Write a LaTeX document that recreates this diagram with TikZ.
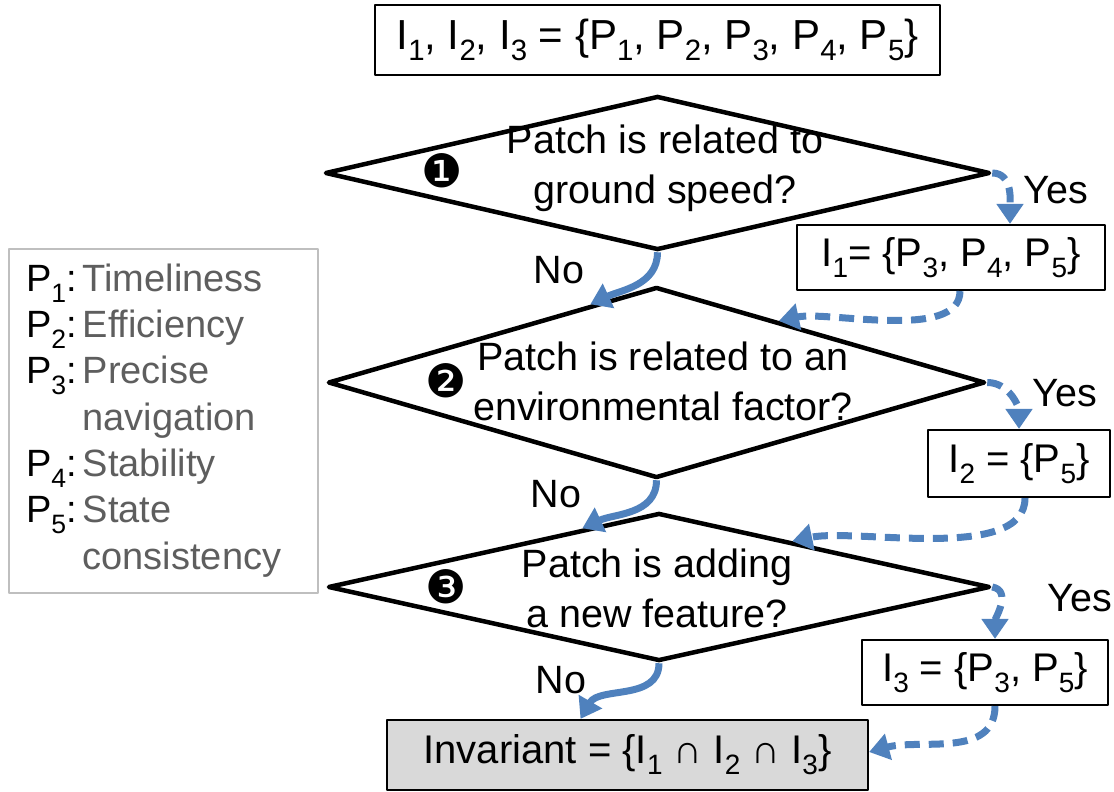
\documentclass[tikz,border=0pt]{standalone}
\usepackage{fontspec}
\setmainfont{Liberation Sans}
\newfontfamily\dingfont{DejaVu Sans}
\usetikzlibrary{shapes.geometric,arrows.meta,calc}
\definecolor{flowblue}{RGB}{79,129,189}
\definecolor{keygray}{RGB}{94,94,94}
\definecolor{keyline}{RGB}{191,191,191}
\definecolor{invfill}{RGB}{217,217,217}
\newcommand{\low}[1]{\raisebox{-0.28em}{\scalebox{0.7}{#1}}}
\newcommand{\num}[1]{{\dingfont\fontsize{46}{46}\selectfont #1}}

\begin{document}
\begin{tikzpicture}[x=1pt,y=-1pt,line join=round,
	box/.style={draw,line width=2.2pt,inner sep=0pt,font=\fontsize{40}{48}\selectfont},
	test/.style={diamond,draw,line width=4.5pt,inner sep=0pt},
	ask/.style={align=center,font=\fontsize{39.5}{50}\selectfont},
	tag/.style={font=\fontsize{39.5}{48}\selectfont},
	noflow/.style={color=flowblue,line width=7pt,-{Triangle[length=20pt,width=26pt]}},
	yesflow/.style={noflow,dash pattern=on 15pt off 9pt}]
	\useasboundingbox (0,0) rectangle (1114,792);
	% sets
	\node[box,minimum width=565pt,minimum height=70pt,font=\fontsize{42}{50}\selectfont] (all) at (657.5,40) {I\low{1}, I\low{2}, I\low{3} = \{P\low{1}, P\low{2}, P\low{3}, P\low{4}, P\low{5}\}};
	\node[box,minimum width=308pt,minimum height=65pt] (i1) at (951,257.5) {I\low{1}= \{P\low{3}, P\low{4}, P\low{5}\}};
	\node[box,minimum width=182pt,minimum height=67pt] (i2) at (1019,463.5) {I\low{2} = \{P\low{5}\}};
	\node[box,minimum width=246pt,minimum height=65pt] (i3) at (985,672.5) {I\low{3} = \{P\low{3}, P\low{5}\}};
	\node[box,fill=invfill,minimum width=481pt,minimum height=70pt] (inv) at (627.5,755) {Invariant = \{I\low{1} ∩ I\low{2} ∩ I\low{3}\}};
	% questions
	\node[test,minimum width=665pt,minimum height=154pt] (q1) at (657.5,173) {};
	\node[test,minimum width=657pt,minimum height=191pt] (q2) at (656.5,382.5) {};
	\node[test,minimum width=662pt,minimum height=148pt] (q3) at (659,587) {};
	\node[ask] at (665,168) {Patch is related to\\ground speed?};
	\node[ask] at (663,381) {Patch is related to an\\environmental factor?};
	\node[ask] at (657,588) {Patch is adding\\a new feature?};
	\node at (442,171) {\num{❶}};
	\node at (446,381) {\num{❷}};
	\node at (446,587) {\num{❸}};
	% answers
	\draw[yesflow] (q1.east) to[out=0,in=90] ([xshift=59pt]i1.north);
	\draw[yesflow] (q2.east) to[out=0,in=90] (i2.north);
	\draw[yesflow] (q3.east) to[out=-10,in=90] ([xshift=10pt]i3.north);
	\draw[yesflow] ([xshift=9pt]i1.south) to[out=-90,in=12,looseness=0.7] ($(q2.north)!0.37!(q2.east)$);
	\draw[yesflow] ([xshift=6pt]i2.south) to[out=-90,in=12,looseness=0.7] ($(q3.north)!0.4!(q3.east)$);
	\draw[yesflow] ([xshift=10pt]i3.south) to[out=-90,in=15] ([yshift=3pt]inv.east);
	\draw[noflow] (q1.south) to[out=-90,in=25] ($(q2.north)!0.2!(q2.west)$);
	\draw[noflow] (q2.south) to[out=-90,in=25] ($(q3.north)!0.23!(q3.west)$);
	\draw[noflow] (q3.south) to[out=-90,in=60] ([xshift=-47pt]inv.north);
	\node[tag] at (1056,190) {Yes};
	\node[tag] at (1065,393) {Yes};
	\node[tag] at (1080,598) {Yes};
	\node[tag] at (559,270) {No};
	\node[tag] at (556,494) {No};
	\node[tag] at (561,680) {No};
	% key
	\node[draw=keyline,line width=2pt,inner sep=0pt,minimum width=309pt,minimum height=344pt,text width=275pt,align=left,
		anchor=north west,font=\fontsize{38}{46.3}\selectfont] (key) at (8,248)
		{\begin{tabular}{@{}l@{\hspace{6pt}}l@{}}
		P\low{1}: & \color{keygray}Timeliness\\
		P\low{2}: & \color{keygray}Efficiency\\
		P\low{3}: & \color{keygray}Precise\\
		 & \color{keygray}navigation\\
		P\low{4}: & \color{keygray}Stability\\
		P\low{5}: & \color{keygray}State\\
		 & \color{keygray}consistency
		\end{tabular}};
\end{tikzpicture}
\end{document}
